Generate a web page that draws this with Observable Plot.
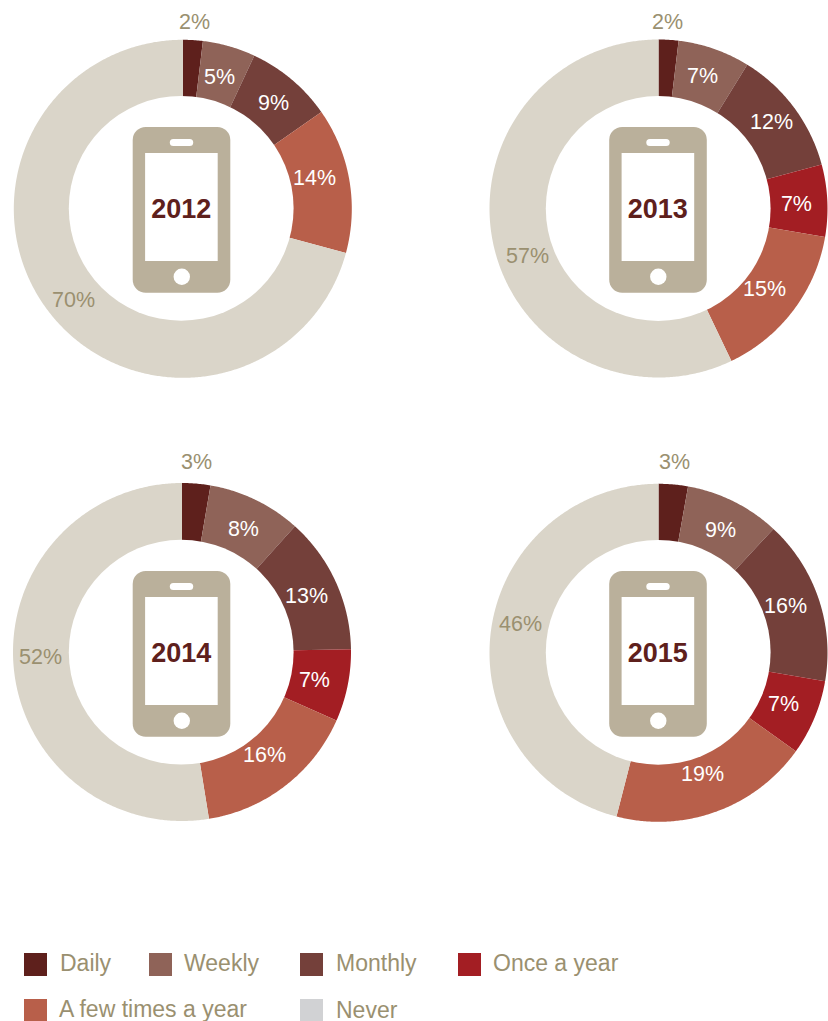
<!DOCTYPE html>
<html>
<head>
<meta charset="utf-8">
<script src="https://cdn.jsdelivr.net/npm/d3@7"></script>
<script src="https://cdn.jsdelivr.net/npm/@observablehq/plot@0.6"></script>
<style>
html,body{margin:0;padding:0;background:#fff;overflow:hidden;height:1021px}
#chart svg{display:block}
#legend{position:absolute;left:0;top:0;width:828px;height:1021px;pointer-events:none;font:23px "Liberation Sans",Arial,sans-serif;color:#9a9070}
#legend .s{position:absolute;width:23px;height:23px}
#legend .t{position:absolute;line-height:20px;white-space:nowrap}
</style>
</head>
<body>
<div id="chart"></div>
<div id="legend"></div>
<script>
const categories = ["Daily", "Weekly", "Monthly", "Once a year", "A few times a year", "Never"];
const sliceColors = ["#5e201c", "#8f6358", "#74403a", "#a31e23", "#b85f4a", "#dad5c9"];
const legendColors = ["#5e201c", "#8f6358", "#74403a", "#a31e23", "#b85f4a", "#d1d2d4"];
const years = [2012, 2013, 2014, 2015];
// Printed percentages
const labels2012 = [2, 5, 9, 0, 14, 70];
const labels2013 = [2, 7, 12, 7, 15, 57];
const labels2014 = [3, 8, 13, 7, 16, 52];
const labels2015 = [3, 9, 16, 7, 19, 46];
const printed = [labels2012, labels2013, labels2014, labels2015];
// Slice sizes (%)
const shares2012 = [1.9, 5.05, 8.35, 0, 13.9, 70.8];
const shares2013 = [1.9, 6.9, 12.0, 6.9, 15.2, 57.1];
const shares2014 = [2.7, 8.95, 13.1, 6.9, 15.8, 52.55];
const shares2015 = [2.8, 9.1, 15.8, 7.2, 19.1, 46.0];
const shares = [shares2012, shares2013, shares2014, shares2015];

// Layout (not data)
const ringCenters = [[182.3, 208.3], [658, 208], [181.5, 651.5], [658, 652.3]];
const holeCenters = [[180.7, 207.8], [657.7, 208], [180.7, 651.7], [657.7, 651.8]];
const phoneCenters = [[181.5, 208], [658, 208], [181.5, 652], [658, 652]];
const outerR = 169, wedgeInnerR = 100, holeR = 112.4;
// Hand-placed label positions around the phone centre: [clock angle in degrees, radius]
const labelOrigins = [[182, 208], [658, 208], [182, 652], [658, 652]];
const labelPlaces = [
  [[3.7, 187], [15.7, 137], [40.6, 140], null, [76.8, 135.6], [230.1, 142]],
  [[2.8, 187], [18.3, 140], [52.4, 142.6], [87.9, 138], [127, 132.8], [250.3, 139]],
  [[4.2, 191.5], [26.2, 138], [65.3, 136.5], [101.6, 134.7], [141.2, 130.9], [268.4, 142]],
  [[4.8, 191.7], [26.8, 137.7], [69.7, 135.4], [112.2, 135], [160, 128.8], [281.9, 141]]
];
const H = 925;

const rad = d => d * Math.PI / 180;
const polar = (c, r, deg) => [c[0] + r * Math.sin(rad(deg)), c[1] - r * Math.cos(rad(deg))];

const ringPoints = [], holes = [], labels = [], phones = [], screens = [], speakers = [], buttons = [], yearLabels = [];
years.forEach((year, i) => {
  const c = ringCenters[i], vals = shares[i], total = d3.sum(vals);
  let cum = 0;
  vals.forEach((v, j) => {
    const a0 = cum / total * 360, a1 = (cum + v) / total * 360;
    cum += v;
    if (v === 0) return;
    const key = year + "-" + j, cat = categories[j];
    const n = Math.max(2, Math.ceil(a1 - a0) * 2);
    for (let k = 0; k <= n; k++) {
      const [x, y] = polar(c, outerR, a0 + (a1 - a0) * k / n);
      ringPoints.push({key, cat, x, y});
    }
    for (let k = n; k >= 0; k--) {
      const [x, y] = polar(c, wedgeInnerR, a0 + (a1 - a0) * k / n);
      ringPoints.push({key, cat, x, y});
    }
    const [deg, r] = labelPlaces[i][j];
    const [x, y] = polar(labelOrigins[i], r, deg);
    labels.push({x, y, text: printed[i][j] + "%", light: j === 0 || j === 5});
  });
  holes.push({x: holeCenters[i][0], y: holeCenters[i][1]});
  const [cx, cy] = phoneCenters[i];
  phones.push({x1: cx - 48.8, x2: cx + 48.8, y1: cy - 81, y2: cy + 84.7});
  screens.push({x1: cx - 36.4, x2: cx + 36.2, y1: cy - 55, y2: cy + 53});
  speakers.push({x1: cx - 11.7, x2: cx + 11.7, y1: cy - 69, y2: cy - 62});
  buttons.push({x: cx - 0.2, y: cy + 68.3});
  yearLabels.push({x: cx - 0.8, y: cy + 1, text: String(year)});
});

const font = '"Liberation Sans",Arial,sans-serif';
const plot = Plot.plot({
  width: 828,
  height: H,
  margin: 0,
  x: {domain: [0, 828], range: [0, 828], axis: null},
  y: {domain: [0, H], range: [0, H], axis: null},
  r: {type: "identity"},
  color: {domain: categories, range: sliceColors},
  marks: [
    Plot.line(ringPoints, {x: "x", y: "y", z: "key", fill: "cat", stroke: null, curve: "linear"}),
    Plot.dot(holes, {x: "x", y: "y", r: holeR, fill: "#fff", stroke: null}),
    Plot.rect(phones, {x1: "x1", x2: "x2", y1: "y1", y2: "y2", fill: "#bab09b", rx: 13}),
    Plot.rect(screens, {x1: "x1", x2: "x2", y1: "y1", y2: "y2", fill: "#fff"}),
    Plot.rect(speakers, {x1: "x1", x2: "x2", y1: "y1", y2: "y2", fill: "#fff", rx: 3.5}),
    Plot.dot(buttons, {x: "x", y: "y", r: 8.2, fill: "#fff", stroke: null}),
    Plot.text(yearLabels, {x: "x", y: "y", text: "text", fill: "#5e201c", fontSize: 27, fontWeight: "bold", fontFamily: font}),
    Plot.text(labels, {x: "x", y: "y", dy: 0.7, text: "text", fill: d => d.light ? "#9a9070" : "#fff", fontSize: 21.5, fontFamily: font})
  ]
});
document.getElementById("chart").appendChild(plot);

// Legend below the SVG, built from the same arrays: [swatch x, swatch y, text x, text y]
const legendSlots = [[24, 953, 60, 953], [149, 953, 184, 953], [300, 953, 336, 953], [458, 953, 493, 953], [24, 999, 59, 999], [300, 999, 336, 999.5]];
const legend = document.getElementById("legend");
categories.forEach((name, i) => {
  const [sx, sy, tx, ty] = legendSlots[i];
  const s = document.createElement("div");
  s.className = "s";
  s.style.cssText = `left:${sx}px;top:${sy}px;height:${Math.min(23, 1021 - sy)}px;background:${legendColors[i]}`;
  const t = document.createElement("div");
  t.className = "t";
  t.style.cssText = `left:${tx}px;top:${ty}px`;
  t.textContent = name;
  legend.append(s, t);
});
</script>
</body>
</html>
